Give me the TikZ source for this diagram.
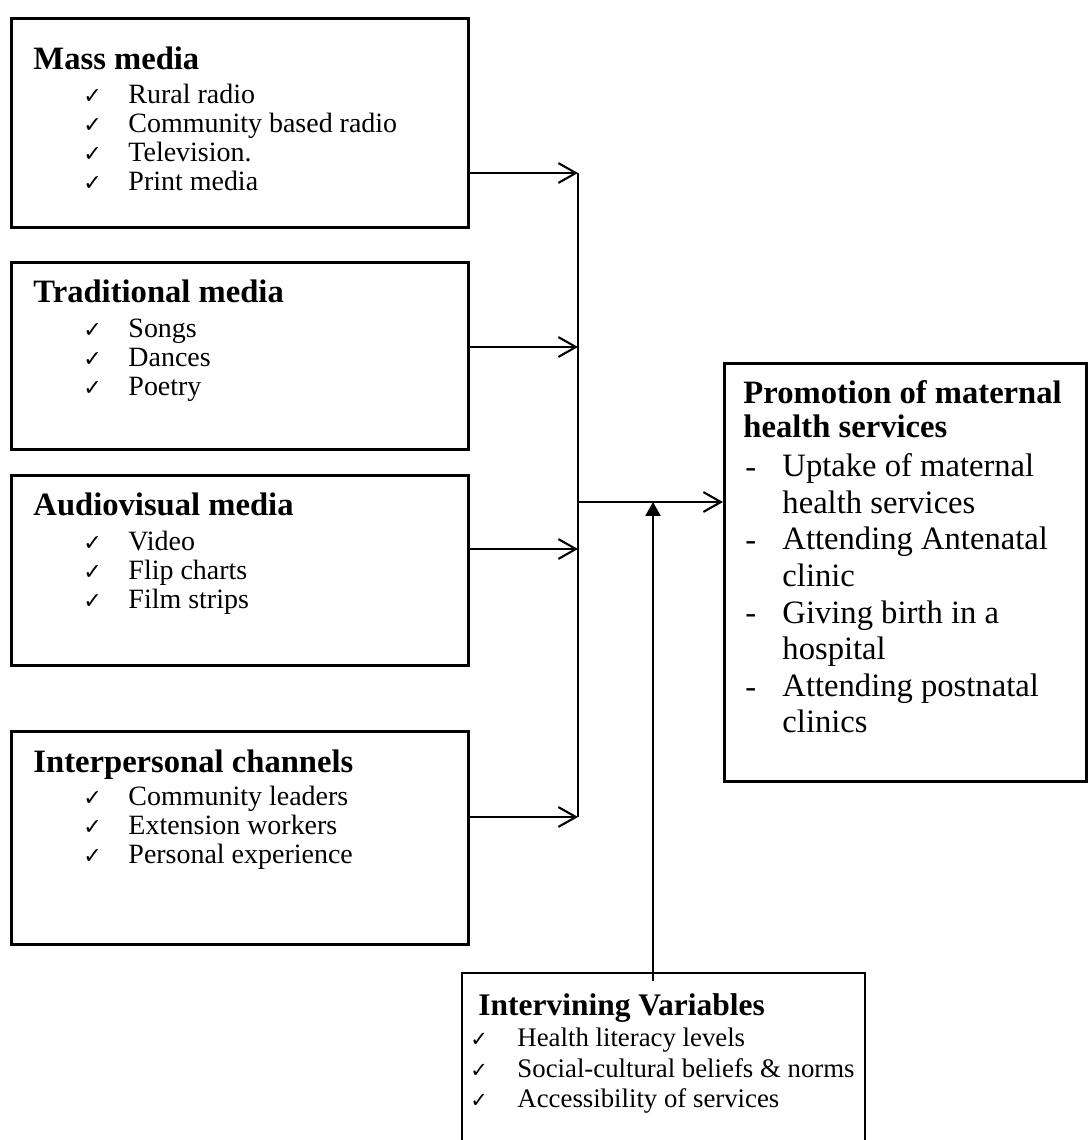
\documentclass[tikz,border=0pt]{standalone}
\usepackage{fontspec}
\setmainfont{Liberation Serif}
\newfontfamily\tickfont{DejaVu Sans}
\usetikzlibrary{arrows.meta}
\def\px{0.4292pt}
\newcommand{\chk}{\tickfont\char"2713}
\tikzset{
  box/.style={draw, line width=1.1pt, inner sep=0pt, anchor=north west},
  head/.style={anchor=base west, inner sep=0pt, font=\fontsize{14}{16}\selectfont\bfseries},
  item/.style={anchor=base west, inner sep=0pt, font=\fontsize{12}{14}\selectfont},
  tick/.style={anchor=base west, inner sep=0pt, font=\fontsize{9.5}{11}\selectfont},
  link/.style={line width=0.9pt, -{Straight Barb[length=7.5pt,width=8.5pt,line width=0.9pt]}},
  bus/.style={line width=0.9pt},
  lift/.style={line width=0.8pt, -{Triangle[length=6pt,width=6.5pt]}}
}
\begin{document}
\begin{tikzpicture}[x=0.4292pt, y=-0.4292pt]
\useasboundingbox (0,0) rectangle (1087,1140);

% source boxes
\node[box, minimum width=457*\px, minimum height=209*\px] (mass) at (10,17) {};
\node[box, minimum width=457*\px, minimum height=187*\px] (trad) at (10,261) {};
\node[box, minimum width=457*\px, minimum height=190*\px] (av) at (10,474) {};
\node[box, minimum width=457*\px, minimum height=213*\px] (inter) at (10,730) {};

% outcome box
\node[box, minimum width=362*\px, minimum height=418*\px] (promo) at (723,362) {};

% intervening box, open at the bottom
\node[anchor=north west, inner sep=0pt, minimum width=402*\px, minimum height=167*\px] (ivar) at (462,973) {};
\draw[line width=1.1pt] (ivar.south west) -- (ivar.north west) -- (ivar.north east) -- (ivar.south east);

% box texts
\node[head] (mass-h) at (33,69) {Mass media};
\foreach \t [count=\i] in {Rural radio, Community based radio, Television., Print media} {
  \node[tick] (mass-c\i) at (83,74+29*\i) {\chk};
  \node[item] (mass-\i) at (128,74+29*\i) {\t};
}
\node[head] (trad-h) at (33,302) {Traditional media};
\foreach \t [count=\i] in {Songs, Dances, Poetry} {
  \node[tick] (trad-c\i) at (83,308+29*\i) {\chk};
  \node[item] (trad-\i) at (128,308+29*\i) {\t};
}
\node[head] (av-h) at (33,515) {Audiovisual media};
\foreach \t [count=\i] in {Video, Flip charts, Film strips} {
  \node[tick] (av-c\i) at (83,521+29*\i) {\chk};
  \node[item] (av-\i) at (128,521+29*\i) {\t};
}
\node[head] (inter-h) at (33,772) {Interpersonal channels};
\foreach \t [count=\i] in {Community leaders, Extension workers, Personal experience} {
  \node[tick] (inter-c\i) at (83,776+29*\i) {\chk};
  \node[item] (inter-\i) at (128,776+29*\i) {\t};
}

\node[head] (promo-h1) at (743,403) {Promotion of maternal};
\node[head] (promo-h2) at (743,437) {health services};
\foreach \t [count=\i] in {Uptake of maternal, health services, Attending Antenatal, clinic,
    Giving birth in a, hospital, Attending postnatal, clinics} {
  \node[head, font=\fontsize{14}{16}\selectfont] (promo-\i) at (782,440+36.6*\i) {\t};
}
\foreach \y [count=\i] in {477,550,623,697} {
  \node[head, font=\fontsize{14}{16}\selectfont] (promo-d\i) at (745,\y) {-};
}

\node[head, font=\fontsize{13.5}{16}\selectfont\bfseries] (ivar-h) at (478,1015) {Intervining Variables};
\foreach \t [count=\i] in {Health literacy levels, Social-cultural beliefs \& norms, Accessibility of services} {
  \node[tick, font=\fontsize{9}{11}\selectfont] (ivar-c\i) at (470,1016+30.5*\i) {\chk};
  \node[item, font=\fontsize{11.5}{13}\selectfont] (ivar-\i) at (517,1016+30.5*\i) {\t};
}

% connectors
\coordinate (b1) at (578,173);
\coordinate (b2) at (578,347);
\coordinate (b3) at (578,549);
\coordinate (b4) at (578,817);
\coordinate (hub) at (578,502);
\coordinate (iv) at (653,981);
\draw[link] (mass.east |- b1) -- (b1);
\draw[link] (trad.east |- b2) -- (b2);
\draw[link] (av.east |- b3) -- (b3);
\draw[link] (inter.east |- b4) -- (b4);
\draw[bus] (b1) -- (b4);
\draw[link] (hub) -- (promo.west |- hub);
\draw[lift] (iv) -- (iv |- hub);
\end{tikzpicture}
\end{document}
